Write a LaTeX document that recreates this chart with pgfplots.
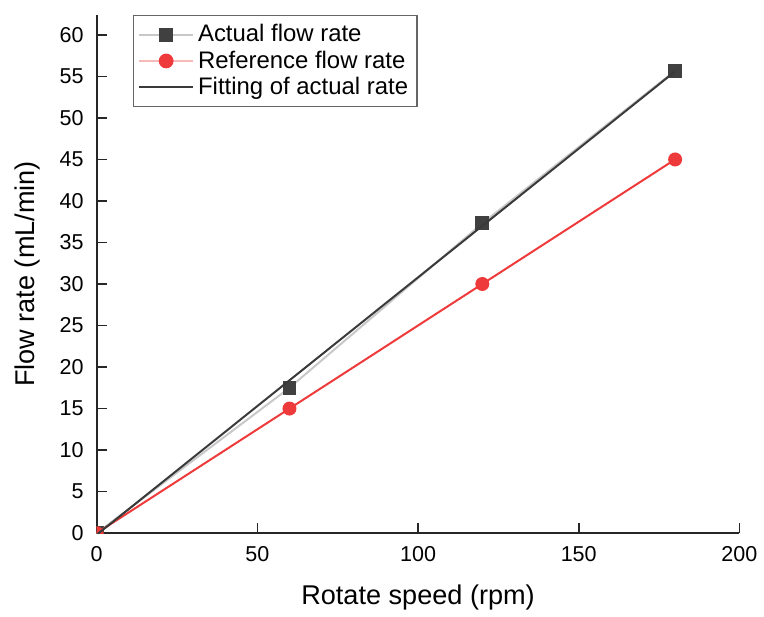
\documentclass[border=0pt]{standalone}
\usepackage{fontspec}
\setmainfont{Liberation Sans}
\usepackage{pgfplots}
\pgfplotsset{compat=1.18}
\definecolor{dgray}{RGB}{64,64,64}
\definecolor{lgray}{RGB}{200,200,200}
\definecolor{fitgray}{RGB}{58,58,58}
\definecolor{myred}{RGB}{238,58,58}
\definecolor{mypink}{RGB}{248,185,185}
\begin{document}
\begin{tikzpicture}
\begin{axis}[
  at={(0,0)}, anchor=south west,
  scale only axis, width=322.5pt, height=260pt,
  xmin=0, xmax=200, ymin=0, ymax=62.4,
  axis x line*=bottom, axis y line*=left,
  axis line style={line width=1pt, black!85},
  xtick={0,50,100,150,200},
  ytick={0,5,...,60},
  tick align=inside, major tick length=5pt,
  tick style={line width=0.8pt, black!85},
  /pgf/number format/assume math mode=true,
  ticklabel style={font=\fontsize{10.8}{13}\selectfont},
  xticklabel style={yshift=-3pt},
  yticklabel style={xshift=-3pt},
  xlabel={Rotate speed (rpm)}, ylabel={Flow rate (mL/min)},
  label style={font=\fontsize{13.6}{16}\selectfont},
  xlabel style={yshift=-5pt},
  ylabel style={yshift=3pt},
  legend style={at={(0.056,1)}, anchor=north west, draw=black!60, line width=0.6pt,
    font=\fontsize{12}{14}\selectfont, row sep=-1pt, inner sep=2.5pt},
  legend cell align=left,
  clip marker paths=true,
]
\addplot[color=lgray, line width=1pt, mark=square*, mark size=3pt,
  mark options={fill=dgray, draw=dgray},
  legend image code/.code={
    \draw[lgray, line width=1pt] (0cm,0cm) -- (0.95cm,0cm);
    \fill[dgray] (0.475cm,0cm) ++(-3pt,-3pt) rectangle ++(6pt,6pt);}]
  coordinates {(0,0) (60,17.5) (120,37.3) (180,55.7)};
\addlegendentry{Actual flow rate}
\addplot[color=myred, line width=1pt, mark=*, mark size=3pt,
  mark options={fill=myred, draw=myred},
  legend image code/.code={
    \draw[mypink, line width=1pt] (0cm,0cm) -- (0.95cm,0cm);
    \fill[myred] (0.475cm,0cm) circle (3.2pt);}]
  coordinates {(0,0) (60,15) (120,30) (180,45)};
\addlegendentry{Reference flow rate}
\addplot[color=fitgray, line width=1pt,
  legend image code/.code={
    \draw[fitgray, line width=1pt] (0cm,0cm) -- (0.95cm,0cm);}]
  coordinates {(0,-0.2) (180,55.6)};
\addlegendentry{Fitting of actual rate}
\end{axis}
\useasboundingbox (-48.5pt,-39.5pt) rectangle (333.5pt,267.5pt);
\end{tikzpicture}
\end{document}
